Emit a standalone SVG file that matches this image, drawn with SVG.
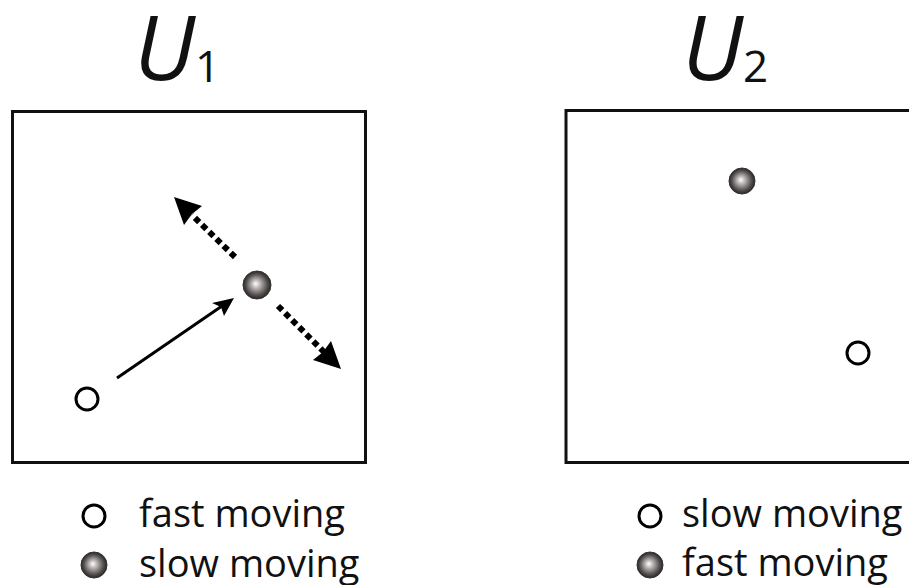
<svg xmlns="http://www.w3.org/2000/svg" width="909" height="585" viewBox="0 0 909 585">
<defs>
<radialGradient id="ball" cx="0.5" cy="0.5" r="0.5" fx="0.45" fy="0.45">
<stop offset="0" stop-color="#ffffff"/>
<stop offset="0.35" stop-color="#b0aaa8"/>
<stop offset="0.75" stop-color="#555050"/>
<stop offset="1" stop-color="#2a2626"/>
</radialGradient>
<style>
.box{fill:none;stroke:#111;stroke-width:3}
.open{fill:#fff;stroke:#000;stroke-width:3}
.filled{fill:url(#ball);stroke:#333;stroke-width:1}
.t{font-family:"Open Sans","Noto Sans",sans-serif;fill:#111}
.leg{font-size:38px}
.solid{stroke:#000;stroke-width:3;fill:none}
.dash{stroke:#000;stroke-width:6;stroke-dasharray:6 4;fill:none}
.head{fill:#000}
</style>
</defs>
<g id="title1"><text class="t" x="134" y="80" font-size="90" font-style="italic">U</text><text class="t" x="195" y="82" font-size="44">1</text></g>
<g id="title2"><text class="t" x="682" y="80" font-size="90" font-style="italic">U</text><text class="t" x="743" y="82" font-size="44">2</text></g>
<g id="box1"><rect class="box" x="12.5" y="111.5" width="353" height="351"/></g>
<g id="box2"><rect class="box" x="566" y="110.5" width="360" height="352"/></g>
<g id="nodeA1"><circle class="open" cx="87" cy="399" r="11"/></g>
<g id="nodeB1"><circle class="filled" cx="257" cy="285" r="14"/></g>
<g id="nodeB2"><circle class="filled" cx="742" cy="181" r="13"/></g>
<g id="nodeA2"><circle class="open" cx="858" cy="353" r="11"/></g>
<g id="connectors">
<line class="solid" x1="117" y1="378" x2="222" y2="306"/>
<path class="head" d="M234,298 L224,316 L221,307 L212,303 Z"/>
<line x1="235" y1="257" x2="192" y2="215" class="dash"/>
<path class="head" d="M174,197 L202,206 L192,214 L184,225 Z"/>
<line x1="278" y1="306" x2="324" y2="352" class="dash"/>
<path class="head" d="M341,369 L313,360 L323,352 L331,341 Z"/>
</g>
<g id="legend1">
<circle class="open" cx="94" cy="516" r="11"/>
<text class="t leg" x="139" y="527">fast moving</text>
<circle class="filled" cx="94" cy="565" r="13"/>
<text class="t leg" x="139" y="577">slow moving</text>
</g>
<g id="legend2">
<circle class="open" cx="650" cy="516" r="11"/>
<text class="t leg" x="682" y="527">slow moving</text>
<circle class="filled" cx="650" cy="565" r="13"/>
<text class="t leg" x="682" y="576">fast moving</text>
</g>
</svg>
